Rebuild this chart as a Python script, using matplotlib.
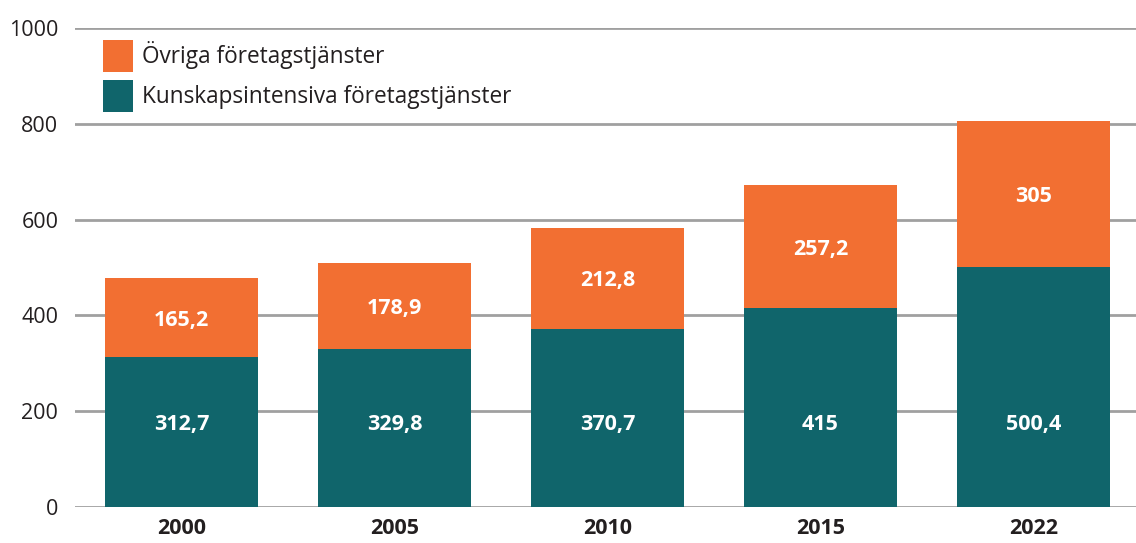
import matplotlib
matplotlib.use("Agg")
import matplotlib.pyplot as plt
from matplotlib.patches import Patch

years = ["2000", "2005", "2010", "2015", "2022"]
kunskap = [312.7, 329.8, 370.7, 415, 500.4]
ovriga = [165.2, 178.9, 212.8, 257.2, 305]
kunskap_labels = ["312,7", "329,8", "370,7", "415", "500,4"]
ovriga_labels = ["165,2", "178,9", "212,8", "257,2", "305"]
yticks = [0, 200, 400, 600, 800, 1000]

TEAL = "#10656B"
ORANGE = "#F26F32"
GRID = "#A0A0A0"
TXT = "#231F20"

plt.rcParams['font.family'] = ['Open Sans', 'DejaVu Sans']

fig = plt.figure(figsize=(11.36, 5.43), dpi=100)
ax = fig.add_axes([75/1136, 36/543, (1140-75)/1136, 479/543])

x = list(range(len(years)))
w = 0.723
ax.bar(x, kunskap, width=w, color=TEAL, zorder=3)
ax.bar(x, ovriga, width=w, bottom=kunskap, color=ORANGE, zorder=3)

for i in x:
    ax.text(i, 178, kunskap_labels[i], ha="center", va="center_baseline", color="white",
            fontsize=15.5, fontweight="bold", zorder=4)
    ax.text(i, kunskap[i] + ovriga[i] / 2, ovriga_labels[i], ha="center", va="center_baseline",
            color="white", fontsize=15.5, fontweight="bold", zorder=4)

ax.set_xlim(-0.5, 4.5)
ax.set_ylim(0, 1000)
ax.set_yticks(yticks)
ax.set_yticklabels([str(v) for v in yticks], fontsize=15.5, color=TXT)
ax.set_xticks(x)
ax.set_xticklabels(years, fontsize=15.5, fontweight="bold", color=TXT)
ax.tick_params(axis="both", length=0)
ax.tick_params(axis="y", pad=12)
ax.tick_params(axis="x", pad=8)
for s in ax.spines.values():
    s.set_visible(False)
ax.yaxis.grid(True, color=GRID, linewidth=2, zorder=0)
ax.set_axisbelow(True)

handles = [Patch(facecolor=ORANGE, label="Övriga företagstjänster"),
           Patch(facecolor=TEAL, label="Kunskapsintensiva företagstjänster")]
leg = ax.legend(handles=handles, loc="upper left", bbox_to_anchor=(0.026, 0.975),
                frameon=False, fontsize=16.3, handlelength=1.33, handleheight=1.78,
                labelspacing=0.38, handletextpad=0.4, borderpad=0, borderaxespad=0)
for t in leg.get_texts():
    t.set_color(TXT)

fig.savefig("out.png", dpi=100)
